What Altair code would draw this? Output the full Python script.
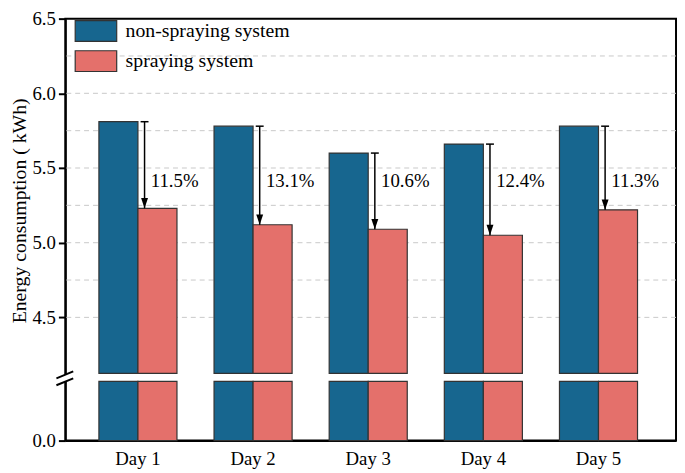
import altair as alt
import pandas as pd

days = ["Day 1", "Day 2", "Day 3", "Day 4", "Day 5"]
non_spraying = [5.81, 5.78, 5.60, 5.66, 5.78]
spraying = [5.23, 5.12, 5.09, 5.05, 5.22]
reductions = ["11.5%", "13.1%", "10.6%", "12.4%", "11.3%"]
series_names = ["non-spraying system", "spraying system"]
colors = ["#17668f", "#e4706b"]
y_ticks = [0.0, 4.5, 5.0, 5.5, 6.0, 6.5]
grid_values = [4.5, 4.75, 5.0, 5.25, 5.5, 5.75, 6.0, 6.25]
label_level = 5.41

LOW = 4.125       # bottom of upper segment
BREAK_TOP = 0.4   # top of lower segment
FONT = "Liberation Serif, Times New Roman, Times, serif"
H = 427

bars_df = pd.DataFrame({
    "day": days * 2,
    "series": [series_names[0]] * 5 + [series_names[1]] * 5,
    "value": non_spraying + spraying,
})
pairs_df = pd.DataFrame({"day": days, "non": non_spraying, "spray": spraying, "label": reductions})
grid_df = pd.DataFrame({"g": grid_values})
one = pd.DataFrame({"a": [0]})

yscale = alt.Scale(domain=[0, BREAK_TOP, LOW, 6.5], range=[H, H - 60, H - 68, 0], zero=False, nice=False)
xscale = alt.Scale(paddingInner=0.322, paddingOuter=0.313, align=0.466)

x_axis = alt.Axis(title=None, labelAngle=0, ticks=False, domainColor="black", domainWidth=2,
                  labelFont=FONT, labelFontSize=19, labelColor="black", labelPadding=9)
y_axis = alt.Axis(values=y_ticks, format=".1f", grid=False, domainColor="black", domainWidth=2,
                  tickColor="black", tickWidth=2, tickSize=7, labelFont=FONT, labelFontSize=19,
                  labelColor="black", labelPadding=3, title="Energy consumption ( kWh)",
                  titleFont=FONT, titleFontSize=20, titleFontWeight="normal", titleColor="black",
                  titleX=-36, titleY=194)

X = alt.X("day:N", sort=days, scale=xscale, axis=x_axis)
XO = alt.XOffset("series:N", sort=series_names, scale=alt.Scale(paddingInner=0, paddingOuter=0))
color = alt.Color("series:N", scale=alt.Scale(domain=series_names, range=colors),
                  legend=alt.Legend(title=None, orient="none", legendX=19.5, legendY=1,
                                    symbolType="M-2,-1L2,-1L2,1L-2,1Z", symbolSize=441,
                                    symbolStrokeColor="#333333", symbolStrokeWidth=1.2,
                                    symbolOpacity=1, labelLimit=400,
                                    labelFont=FONT, labelFontSize=20, labelColor="black",
                                    labelOffset=18.5, rowPadding=3.5, padding=0))


def Y(field=None, datum=None):
    if datum is not None:
        return alt.Y(datum=datum, scale=yscale, axis=y_axis)
    return alt.Y(field, scale=yscale, axis=y_axis)


grid = alt.Chart(grid_df).mark_rule(color="#c8c8c8", strokeDash=[5, 4], strokeWidth=1).encode(
    y=Y("g:Q"))

top_bars = alt.Chart(bars_df).mark_bar(stroke="#333333", strokeWidth=1.2, opacity=1).encode(
    x=X, xOffset=XO, y=Y("value:Q"), y2=alt.datum(LOW), color=color)

bottom_bars = alt.Chart(bars_df).mark_bar(stroke="#333333", strokeWidth=1.2, opacity=1).encode(
    x=X, xOffset=XO, y=Y(datum=BREAK_TOP), y2=alt.datum(0), color=color)

rule = alt.Chart(pairs_df).mark_rule(color="black", strokeWidth=1.5, xOffset=6.7).encode(
    x=X, y=Y("non:Q"), y2="spray:Q")

cap = alt.Chart(pairs_df).mark_point(shape="M-1,0L1,0", size=64, filled=False, stroke="black",
                                     strokeWidth=1.5, opacity=1, xOffset=6.7).encode(
    x=X, y=Y("non:Q"))

head = alt.Chart(pairs_df).mark_point(shape="M-1,-3L1,-3L0,0Z", size=49, filled=True, fill="black",
                                      opacity=1, xOffset=6.7).encode(
    x=X, y=Y("spray:Q"))

text = alt.Chart(pairs_df).mark_text(align="left", baseline="middle", dx=13, font=FONT, fontSize=19,
                                     color="black").encode(
    x=X, y=Y(datum=label_level), text="label:N")

gap = alt.Chart(one).mark_rect(color="white").encode(
    x=alt.value(-3), x2=alt.value(3), y=alt.value(H - 67), y2=alt.value(H - 60))
brk1 = alt.Chart(one).mark_rule(color="black", strokeWidth=2).encode(
    x=alt.value(-9), x2=alt.value(8), y=alt.value(H - 63), y2=alt.value(H - 70))
brk2 = alt.Chart(one).mark_rule(color="black", strokeWidth=2).encode(
    x=alt.value(-9), x2=alt.value(8), y=alt.value(H - 56), y2=alt.value(H - 63))

chart = alt.layer(grid, top_bars, bottom_bars, rule, cap, head, text, gap, brk1, brk2).properties(
    width=618, height=H,
    autosize=alt.AutoSizeParams(type="none"),
    padding={"left": 58, "top": 8, "right": 1, "bottom": 28},
).configure_view(stroke="black", strokeWidth=2)

chart.save("out.html", embed_options={"renderer": "svg", "actions": False})
